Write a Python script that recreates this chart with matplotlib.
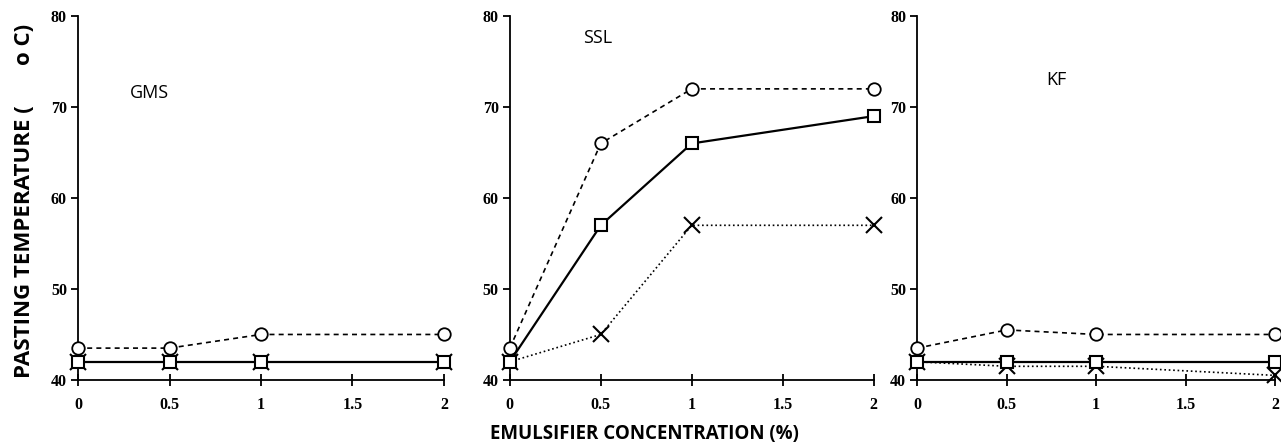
import matplotlib.pyplot as plt

conc = [0, 0.5, 1, 2]
panels = ["GMS", "SSL", "KF"]

# pasting temperature (deg C), one list per marker series
circle_vals = {
    "GMS": [43.5, 43.5, 45, 45],
    "SSL": [43.5, 66, 72, 72],
    "KF": [43.5, 45.5, 45, 45],
}
square_vals = {
    "GMS": [42, 42, 42, 42],
    "SSL": [42, 57, 66, 69],
    "KF": [42, 42, 42, 42],
}
cross_vals = {
    "GMS": [42, 42, 42, 42],
    "SSL": [42, 45, 57, 57],
    "KF": [42, 41.5, 41.5, 40.5],
}
label_pos = {"GMS": (0.39, 71.6), "SSL": (0.48, 77.6), "KF": (0.78, 73.0)}

x_ticks = [0, 0.5, 1, 1.5, 2]
x_ticklabels = ["0", "0.5", "1", "1.5", "2"]
y_ticks = [40, 50, 60, 70, 80]

fig = plt.figure(figsize=(12.81, 4.47), dpi=100)

boxes = [(0.0609, 0.2857), (0.398, 0.284), (0.716, 0.2795)]
for (left, width), name in zip(boxes, panels):
    ax = fig.add_axes([left, 0.150, width, 0.814])

    ax.plot(conc, circle_vals[name], linestyle=(0, (3, 2.5)), color="black",
            linewidth=1.2, marker="o", markersize=9, markerfacecolor="white",
            markeredgewidth=1.3, clip_on=False, zorder=3)
    ax.plot(conc, cross_vals[name], linestyle=":", color="black",
            linewidth=1.2, marker="x", markersize=11, markeredgewidth=1.5,
            clip_on=False, zorder=3)
    ax.plot(conc, square_vals[name], linestyle="-", color="black",
            linewidth=1.6, marker="s", markersize=9, markerfacecolor="white",
            markeredgewidth=1.5, clip_on=False, zorder=4)

    ax.set_xlim(0, 2)
    ax.set_ylim(40, 80)
    ax.set_xticks(x_ticks)
    ax.set_xticklabels(x_ticklabels)
    ax.set_yticks(y_ticks)
    ax.spines["top"].set_visible(False)
    ax.spines["right"].set_visible(False)
    ax.spines["left"].set_linewidth(1.3)
    ax.spines["bottom"].set_linewidth(1.3)
    ax.tick_params(axis="x", direction="inout", length=8, width=1.3, pad=8)
    ax.tick_params(axis="y", direction="out", length=5, width=1.3, pad=3)
    for lab in ax.get_xticklabels() + ax.get_yticklabels():
        lab.set_fontfamily("Liberation Serif")
        lab.set_fontweight("bold")
        lab.set_fontsize(11.5)

    lx, ly = label_pos[name]
    ax.text(lx, ly, name, fontsize=13, fontfamily="Open Sans",
            ha="center", va="center")

fig.text(0.019, 0.55, "PASTING TEMPERATURE (       o C)", rotation=90,
         fontsize=16, fontweight="bold", fontfamily="Open Sans",
         ha="center", va="center")
fig.text(0.503, 0.03, "EMULSIFIER CONCENTRATION (%)", fontsize=13.5,
         fontweight="bold", fontfamily="Open Sans", ha="center", va="center")

fig.savefig("out.png", dpi=100)
